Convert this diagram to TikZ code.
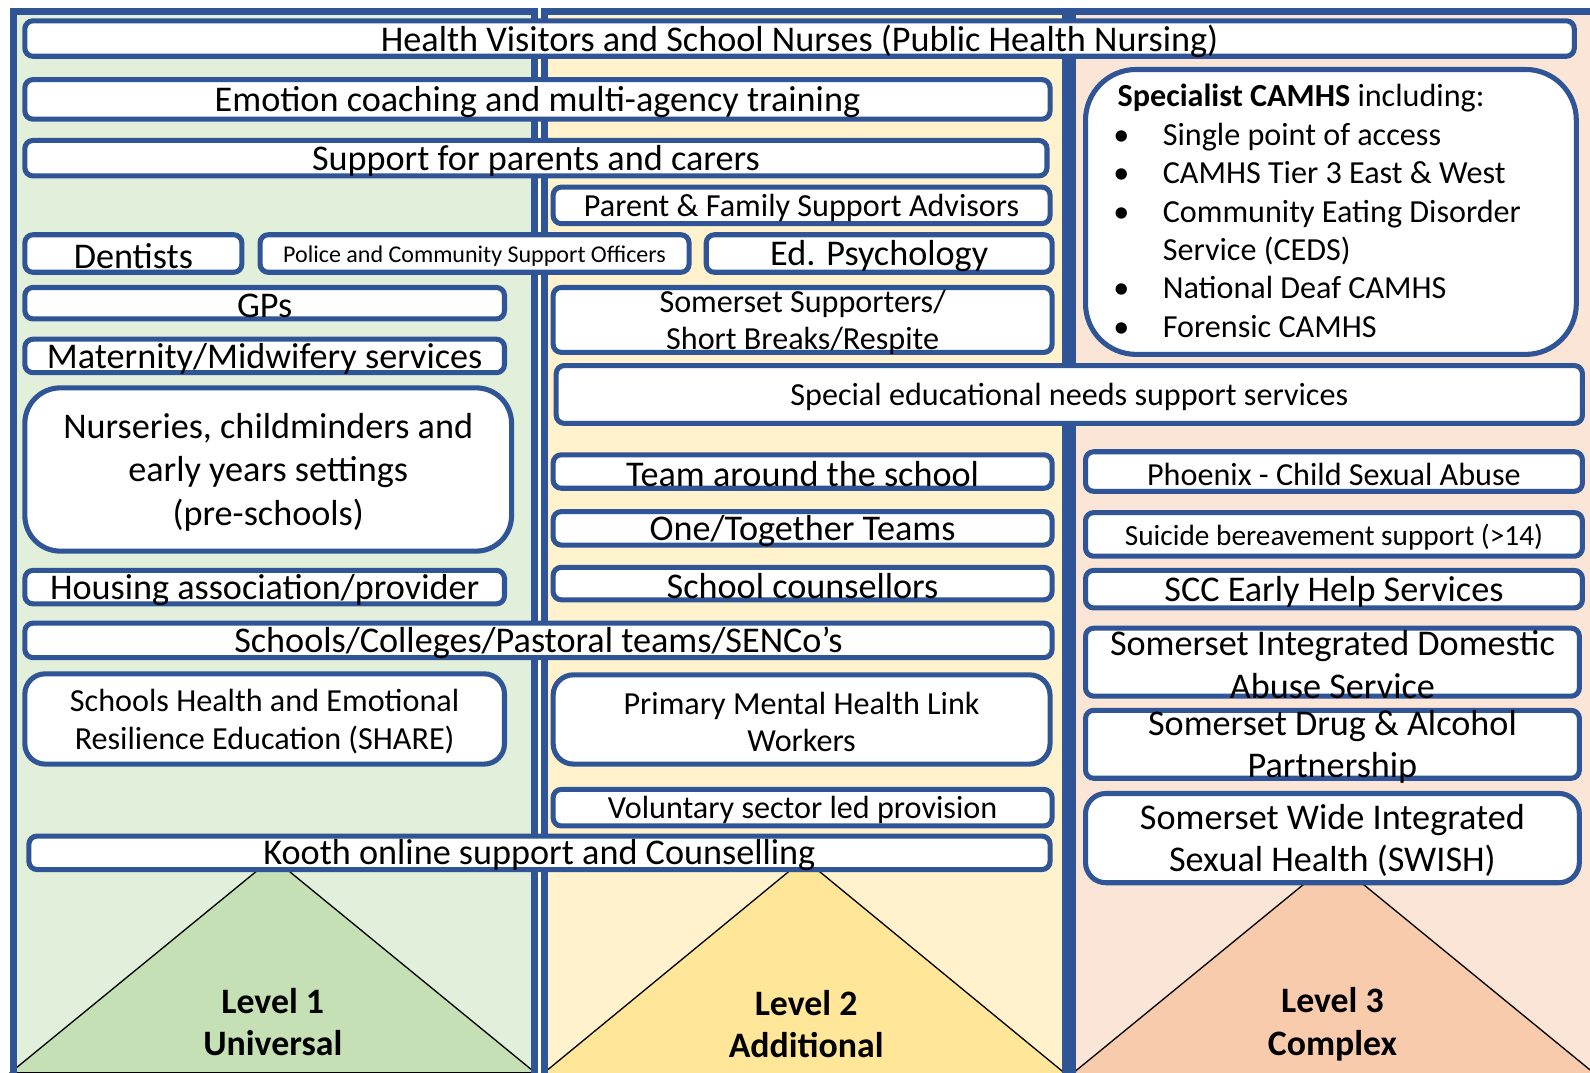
\documentclass[tikz,border=0pt]{standalone}
\usepackage{fontspec}
\setmainfont{Carlito}
\definecolor{bl}{HTML}{2F5597}
\definecolor{gbg}{HTML}{E2EFDA}
\definecolor{ybg}{HTML}{FFF2CC}
\definecolor{pbg}{HTML}{FBE5D6}
\definecolor{gtr}{HTML}{C5E0B4}
\definecolor{ytr}{HTML}{FFE699}
\definecolor{ptr}{HTML}{F8CBAD}
\newcommand\fs[2]{\fontsize{#1}{#2}\selectfont}
\newcommand\ibox[7]{%
  \node[bx,minimum width=#3pt,minimum height=#4pt,#5] (#1) at (#2) {};
  \node[txt,font=#6] (#1t) at (#1.center) {#7};}
\begin{document}
\begin{tikzpicture}[x=1pt,y=-1pt,
  bx/.style={draw=bl,line width=5pt,fill=white,rounded corners=8pt,inner sep=0pt},
  txt/.style={inner sep=0pt,align=center,yshift=-2.5pt},
  colb/.style={draw=bl,line width=7pt},
  tri/.style={draw=black,line width=1.3pt},
  lvl/.style={inner sep=0pt,align=center,font=\fs{35.3}{42}\bfseries},
  cam/.style={inner sep=0pt,anchor=base west,font=\fs{31.7}{38}}]
\useasboundingbox (0,0) rectangle (1568,1058);
\fill[white] (0,0) rectangle (1568,1058);
% columns
\fill[gbg] (13,11) rectangle (527,1075);
\fill[ybg] (537,11) rectangle (1051,1075);
\fill[pbg] (1058,11) rectangle (1585,1075);
% triangles
\filldraw[tri,fill=gtr] (269,846) -- (528,1058) -- (10,1058) -- cycle;
\filldraw[tri,fill=ytr] (793,847) -- (1052,1060) -- (534,1060) -- cycle;
\filldraw[tri,fill=ptr] (1315,848) -- (1574,1060) -- (1056,1060) -- cycle;
% column borders
\draw[colb] (13,1075) -- (13,11) -- (527,11) -- (527,1075);
\draw[colb] (537,1075) -- (537,11) -- (1051,11) -- (1051,1075);
\draw[colb] (1058,1075) -- (1058,11) -- (1585,11);
% level labels
\node[lvl] (l1) at (269,1008) {Level 1\\Universal};
\node[lvl] (l2) at (795,1010) {Level 2\\Additional};
\node[lvl] (l3) at (1314,1010) {Level 3\\Complex};
% boxes
\ibox{hv}{788.5,38}{1528}{35}{}{\fs{35.7}{40}}{Health Visitors and School Nurses (Public Health Nursing)}
\ibox{emo}{530,98}{1011}{39}{}{\fs{35.7}{40}}{Emotion coaching and multi-agency training}
\ibox{sup}{528.5,156}{1008}{35}{}{\fs{35.7}{40}}{Support for parents and carers}
\ibox{pfsa}{790.5,202.5}{490}{36}{}{\fs{31.7}{36}}{Parent \& Family Support Advisors}
\ibox{den}{131.5,250}{214}{37}{}{\fs{35.7}{40}}{Dentists}
\ibox{pol}{468,250}{423}{37}{}{\fs{23.7}{28}}{Police and Community Support Officers}
\ibox{edp}{867,250}{341}{37}{}{\fs{35.7}{40}}{Ed. Psychology}
\ibox{gps}{261,299}{473}{31}{}{\fs{35.7}{40}}{GPs}
\ibox{mat}{261,351}{473}{33}{}{\fs{35.7}{40}}{Maternity/Midwifery services}
\ibox{nur}{264.5,463}{480}{161}{rounded corners=35pt}{\fs{35.7}{43}}{Nurseries, childminders and\\early years settings\\(pre-schools)}
\ibox{ssr}{791.5,315.5}{492}{64}{}{\fs{31.7}{37}}{Somerset Supporters/\\Short Breaks/Respite}
\node[bx,minimum width=484pt,minimum height=281pt,rounded corners=50pt] (camhs) at (1312.5,209) {};
\ibox{sen}{1054.5,389}{1012}{57}{}{\fs{31.7}{36}}{Special educational needs support services}
\ibox{tas}{791.5,465}{492}{33}{}{\fs{35.7}{40}}{Team around the school}
\ibox{one}{791.5,521}{492}{33}{}{\fs{35.7}{40}}{One/Together Teams}
\ibox{cou}{791.5,575.5}{492}{32}{}{\fs{35.7}{40}}{School counsellors}
\ibox{hou}{261,579}{473}{33}{}{\fs{35.7}{40}}{Housing association/provider}
\ibox{sch}{531,631.5}{1013}{34}{}{\fs{35.7}{40}}{Schools/Colleges/Pastoral teams/SENCo’s}
\ibox{sha}{261,709}{473}{89}{rounded corners=20pt}{\fs{31.7}{38}}{Schools Health and Emotional\\Resilience Education (SHARE)}
\ibox{pmh}{790.5,709.5}{490}{88}{rounded corners=20pt}{\fs{31.7}{37}}{Primary Mental Health Link\\Workers}
\ibox{vol}{791.5,796.5}{492}{36}{}{\fs{31.7}{36}}{Voluntary sector led provision}
\ibox{koo}{532,841}{1007}{33}{}{\fs{35.7}{40}}{Kooth online support and Counselling}
\ibox{pho}{1315.5,465}{490}{39}{}{\fs{31.7}{36}}{Phoenix - Child Sexual Abuse}
\ibox{sui}{1315.5,527}{490}{43}{}{\fs{28.9}{33}}{Suicide bereavement support (>14)}
\ibox{scc}{1315.5,581}{490}{37}{}{\fs{35.7}{40}}{SCC Early Help Services}
\ibox{dom}{1314,653}{487}{67}{}{\fs{35.7}{42}}{Somerset Integrated Domestic\\Abuse Service}
\ibox{dru}{1314,734}{487}{67}{}{\fs{35.7}{42}}{Somerset Drug \& Alcohol\\Partnership}
\ibox{swi}{1314,826.5}{487}{88}{rounded corners=20pt}{\fs{35.7}{42}}{Somerset Wide Integrated\\Sexual Health (SWISH)}
% CAMHS list
\node[cam] (c0) at (1102,105.5) {\textbf{Specialist CAMHS} including:};
\node[cam] (c1) at (1146.5,143.5) {\llap{•\hspace{33pt}}Single point of access};
\node[cam] (c2) at (1146.5,181) {\llap{•\hspace{33pt}}CAMHS Tier 3 East \& West};
\node[cam] (c3) at (1146.5,219) {\llap{•\hspace{33pt}}Community Eating Disorder};
\node[cam] (c4) at (1146.5,256.5) {Service (CEDS)};
\node[cam] (c5) at (1146.5,294.5) {\llap{•\hspace{33pt}}National Deaf CAMHS};
\node[cam] (c6) at (1146.5,332.5) {\llap{•\hspace{33pt}}Forensic CAMHS};
\end{tikzpicture}
\end{document}
